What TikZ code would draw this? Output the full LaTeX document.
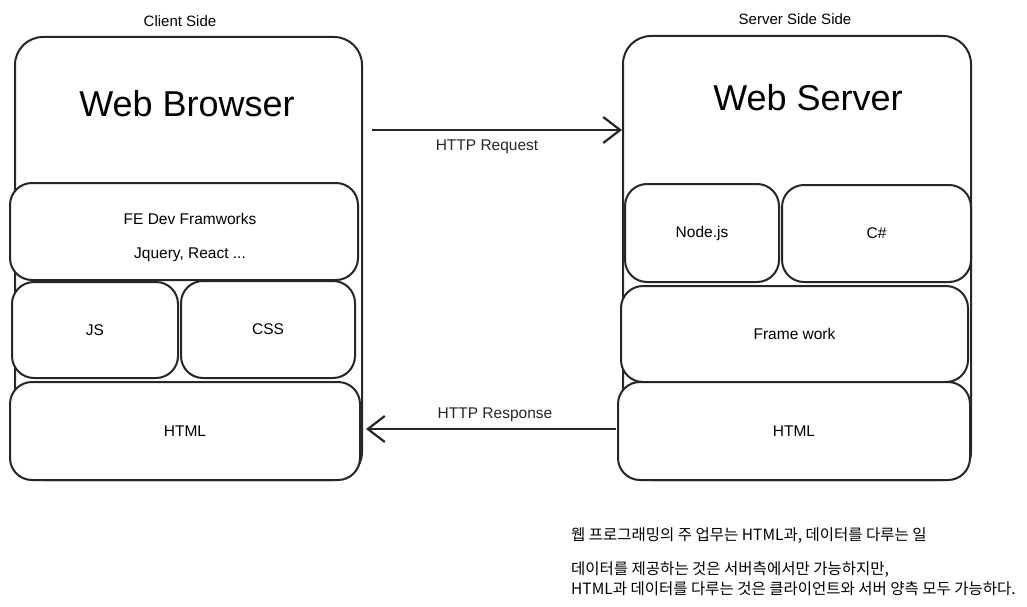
\documentclass[tikz,border=0pt]{standalone}
\usepackage{fontspec}
\setmainfont{Liberation Sans}
\newfontfamily\krfont{Noto Sans CJK KR}
\usetikzlibrary{arrows.meta,positioning}
\tikzset{
  outerbox/.style={rectangle,draw=black!85,line width=2pt,rounded corners=28pt,inner sep=0pt},
  layer/.style={rectangle,draw=black!85,line width=2pt,rounded corners=22pt,inner sep=0pt,fill=white,
    font=\fontsize{15.5}{18}\selectfont},
  side/.style={font=\fontsize{15}{18}\selectfont},
  title/.style={font=\fontsize{36}{42}\selectfont},
  lab/.style={font=\fontsize{15.5}{18}\selectfont},
  msg/.style={line width=2.2pt,black!85,-{Straight Barb[length=17pt,width=26pt,line width=2.2pt]}},
  note/.style={font=\krfont\fontsize{15.5}{20.5}\selectfont,align=left,anchor=north west,inner sep=0pt}
}
\begin{document}
\begin{tikzpicture}[x=1pt,y=-1pt]
  \useasboundingbox (0,0) rectangle (1027,607);
  % client side
  \node[side] (clabel) at (180,21) {Client Side};
  \node[outerbox,minimum width=347pt,minimum height=443pt] (browser) at (188.5,258.5) {};
  \node[title] (btitle) at (187,104) {Web Browser};
  \node[layer,minimum width=348pt,minimum height=97pt] (fe) at (184,231.5) {};
  \node[lab] (fe1) at (190,219) {FE Dev Framworks};
  \node[lab] (fe2) at (190,255) {Jquery, React ...};
  \node[layer,minimum width=166pt,minimum height=96pt] (js) at (95,330) {JS};
  \node[layer,minimum width=174pt,minimum height=97pt] (css) at (268,329.5) {CSS};
  \node[layer,minimum width=350pt,minimum height=98pt] (chtml) at (185,431) {HTML};
  % server side
  \node[side] (slabel) at (795,19) {Server Side Side};
  \node[outerbox,minimum width=348pt,minimum height=444pt] (server) at (797,258) {};
  \node[title] (stitle) at (808,98) {Web Server};
  \node[layer,minimum width=154pt,minimum height=98pt] (node) at (702,233) {Node.js};
  \node[layer,minimum width=189pt,minimum height=97pt] (csharp) at (876.5,233.5) {C\#};
  \node[layer,minimum width=347pt,minimum height=96pt] (fw) at (794.5,334) {Frame work};
  \node[layer,minimum width=352pt,minimum height=98pt] (shtml) at (794,431) {HTML};
  % messages
  \coordinate (reqa) at (372,130);
  \coordinate (reqb) at (622,130);
  \coordinate (resa) at (616,429);
  \coordinate (resb) at (366,429);
  \draw[msg] (reqa) -- node[lab,below=5pt,xshift=-10pt] (req) {HTTP Request} (reqb);
  \draw[msg] (resa) -- node[lab,above=3pt,xshift=4pt] (res) {HTTP Response} (resb);
  % notes
  \node[note] (n1) at (571,527) {웹 프로그래밍의 주 업무는 HTML과, 데이터를 다루는 일};
  \node[note] (n2) at (571,561) {데이터를 제공하는 것은 서버측에서만 가능하지만,\\HTML과 데이터를 다루는 것은 클라이언트와 서버 양측 모두 가능하다.};
\end{tikzpicture}
\end{document}
